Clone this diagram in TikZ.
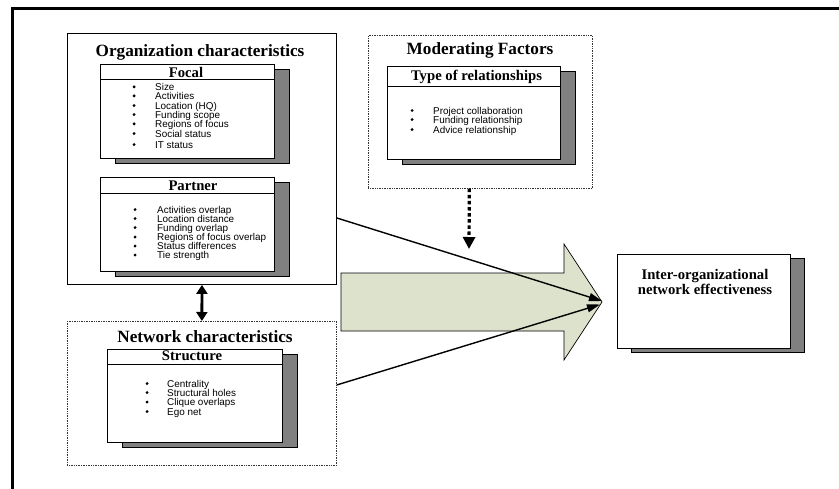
\documentclass[tikz,border=0pt]{standalone}
\usepackage{fontspec}
\setmainfont{Liberation Serif}
\setsansfont{Liberation Sans}
\usetikzlibrary{shadows,arrows.meta}
\definecolor{arrowfill}{RGB}{221,226,204}
\newcommand{\mybul}[1]{\makebox[#1][l]{\raisebox{2.2pt}{\tikz\fill[black] (0,0) circle (1.6pt);}}}
\begin{document}
\begin{tikzpicture}[x=1pt,y=-1pt,
  frame/.style={draw=black, line width=0.9pt, fill=white, inner sep=0pt, anchor=north west},
  shbox/.style={frame, drop shadow={shadow xshift=15pt, shadow yshift=-5pt, opacity=1, fill=black!50, draw=black, line width=0.9pt}},
  dotbox/.style={draw=black!80, densely dotted, line width=0.7pt, inner sep=0pt, anchor=north west},
  bigtitle/.style={font=\bfseries\fontsize{17.2}{20}\selectfont, anchor=base, inner sep=0pt},
  subtitle/.style={font=\bfseries\fontsize{14.7}{17}\selectfont, anchor=base, inner sep=0pt},
  itm/.style={font=\sffamily\fontsize{9.9}{9.3}\selectfont, anchor=base west, inner sep=0pt},
  hline/.style={draw=black, line width=0.9pt},
  conn/.style={draw=black, line width=1.4pt, -{Triangle[length=13pt,width=8pt]}},
]
\useasboundingbox (0,0) rectangle (839,488);
\clip (0,0) rectangle (839,488);

% outer frame
\draw[line width=3pt] (12,500) -- (12,8) -- (850,8);

% Organization characteristics
\node[frame, minimum width=269pt, minimum height=251pt] (org) at (67,33) {};
\node[bigtitle] (orgt) at (200,56) {Organization characteristics};

\node[shbox, minimum width=174pt, minimum height=94pt] (focal) at (100,64) {};
\draw[hline] (focal.west |- 0,79) -- (focal.east |- 0,79);
\node[subtitle] (focalt) at (186,77) {Focal};
\foreach \t/\yy [count=\i] in {Size/90.6, Activities/99.6, Location (HQ)/109.3, Funding scope/118.3, Regions of focus/127.6, Social status/137.3, IT status/148.3}
  \node[itm] (f\i) at (132.3,\yy) {\mybul{22.7pt}\t};

\node[shbox, minimum width=174pt, minimum height=94pt] (partner) at (100,177) {};
\draw[hline] (partner.west |- 0,193) -- (partner.east |- 0,193);
\node[subtitle] (partnert) at (193,190.5) {Partner};
\foreach \t/\yy [count=\i] in {Activities overlap/213.3, Location distance/222.3, Funding overlap/231.3, Regions of focus overlap/240.8, Status differences/249.8, Tie strength/258.8}
  \node[itm] (p\i) at (133.3,\yy) {\mybul{23.7pt}\t};

% Network characteristics
\node[dotbox, minimum width=269pt, minimum height=144pt] (net) at (67,321) {};
\node[bigtitle] (nett) at (205,342.7) {Network characteristics};
\node[shbox, minimum width=175pt, minimum height=93pt] (struct) at (107,349) {};
\draw[hline] (struct.west |- 0,364) -- (struct.east |- 0,364);
\node[subtitle] (structt) at (192,360.7) {Structure};
\foreach \t/\yy [count=\i] in {Centrality/387.3, Structural holes/396.3, Clique overlaps/405.8, Ego net/415.3}
  \node[itm] (s\i) at (145.3,\yy) {\mybul{21.7pt}\t};

% Moderating factors
\node[dotbox, minimum width=224pt, minimum height=153pt] (mod) at (368,35) {};
\node[bigtitle] (modt) at (480,54) {Moderating Factors};
\node[shbox, minimum width=173pt, minimum height=93pt] (type) at (387,66) {};
\draw[hline] (type.west |- 0,86) -- (type.east |- 0,86);
\node[subtitle] (typet) at (476.5,80.5) {Type of relationships};
\foreach \t/\yy [count=\i] in {Project collaboration/114.3, Funding relationship/123.3, Advice relationship/133.3}
  \node[itm] (t\i) at (410.3,\yy) {\mybul{22.7pt}\t};

% Outcome
\node[frame, minimum width=173pt, minimum height=94pt, drop shadow={shadow xshift=14pt, shadow yshift=-4pt, opacity=1, fill=black!50, draw=black, line width=0.9pt}] (ione) at (617,254) {};
\node[subtitle, align=center, font=\bfseries\fontsize{14.7}{13}\selectfont] (ionet) at (705,294.3) {Inter-organizational\\network effectiveness};

% block arrow
\draw[fill=arrowfill, draw=black, line width=0.7pt] (341,273) -- (564,273) -- (564,244) -- (602,302) -- (564,360) -- (564,331) -- (341,331) -- cycle;
\coordinate (tip1) at (602,301);
\coordinate (tip2) at (600,304.5);
\coordinate (orgout) at (org.east |- 0,218);
\coordinate (netout) at (net.east |- 0,385);
\draw[conn] (orgout) -- (tip1);
\draw[conn] (netout) -- (tip2);

% double arrow
\draw[line width=2.8pt, {Triangle[length=9pt,width=11pt]}-{Triangle[length=9pt,width=11pt]}] (org.south) -- (net.north);

% dotted arrow
\coordinate (modin) at (469,249);
\draw[line width=3.2pt, dash pattern=on 3.5pt off 2.6pt, -{Triangle[length=12pt,width=12pt]}] ([xshift=-11pt]mod.south) -- (modin);
\end{tikzpicture}
\end{document}
